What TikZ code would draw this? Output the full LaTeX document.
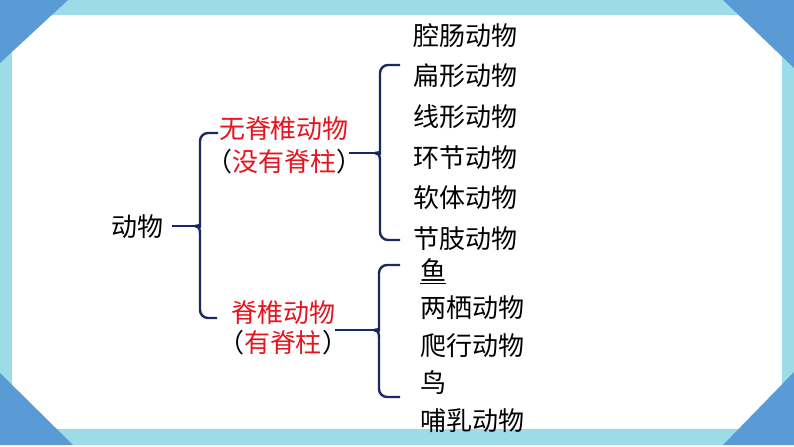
\documentclass[tikz,border=0pt]{standalone}
\usepackage{fontspec}
\newfontfamily\cjk{Noto Sans CJK SC}
\definecolor{framecyan}{RGB}{155,220,230}
\definecolor{cornerblue}{RGB}{91,155,213}
\definecolor{bracenavy}{RGB}{25,40,95}
\definecolor{labelred}{RGB}{230,20,30}
\tikzset{
  txt/.style={font=\cjk\fontsize{19.5}{23}\selectfont, inner sep=0pt},
  item/.style={txt, anchor=base west},
  group/.style={txt, anchor=base, text=labelred},
  brace/.style={bracenavy, line width=1.8pt, line join=round},
}

\begin{document}
\begin{tikzpicture}[x=0.75pt, y=-0.75pt]
        \useasboundingbox (0,0) rectangle (794,447);
        \fill[white] (0,0) rectangle (794,447);

        % Frame and corners
        \fill[framecyan] (0,0) rectangle (794,445);
        \fill[white] (12,15) rectangle (782,429);
        \fill[cornerblue] (0,0) -- (68,0) -- (0,63) -- cycle;
        \fill[cornerblue] (723,0) -- (794,0) -- (794,68) -- cycle;
        \fill[cornerblue] (0,373) -- (0,445) -- (73,445) -- cycle;
        \fill[cornerblue] (723,445) -- (794,445) -- (794,372) -- cycle;

        % Root and groups
        \node[txt, anchor=base west] (dongwu) at (111,236) {动物};
        \node[group] (wuji) at (284,138) {无脊椎动物};
        \node[group] (wujinote) at (284,171) {{\color{black}（}没有脊柱{\color{black}）}};
        \node[group] (jizhui) at (283,322) {脊椎动物};
        \node[group] (jizhuinote) at (283,352) {{\color{black}（}有脊柱{\color{black}）}};

        % Invertebrates
        \node[item] (qiang) at (413,45) {腔肠动物};
        \node[item] (bian) at (413,85.5) {扁形动物};
        \node[item] (xian) at (413,126) {线形动物};
        \node[item] (huan) at (413,167) {环节动物};
        \node[item] (ruan) at (413,207) {软体动物};
        \node[item] (jie) at (413,248) {节肢动物};

        % Vertebrates
        \node[item] (yu) at (420,280) {\underline{鱼}};
        \node[item] (liang) at (420,317.5) {两栖动物};
        \node[item] (pa) at (420,355) {爬行动物};
        \node[item] (niao) at (420,392.5) {鸟};
        \node[item] (bu) at (420,430) {哺乳动物};

        % Braces
        \coordinate (tip1) at (195,226);
        \coordinate (tip2) at (375,153);
        \coordinate (tip3) at (374,330);
        \draw[brace, rounded corners=6] (218,133) -- (200,133) -- (200,219)
          [sharp corners] .. controls (200,224) and (198,226) .. (tip1)
          .. controls (198,226) and (200,228) .. (200,233)
          [rounded corners=6] -- (200,318) -- (217,318);
        \draw[brace, rounded corners=6] (400,65) -- (380,65) -- (380,146)
          [sharp corners] .. controls (380,151) and (378,153) .. (tip2)
          .. controls (378,153) and (380,155) .. (380,160)
          [rounded corners=6] -- (380,240) -- (400,240);
        \draw[brace, rounded corners=6] (400,265) -- (379,265) -- (379,323)
          [sharp corners] .. controls (379,328) and (377,330) .. (tip3)
          .. controls (377,330) and (379,332) .. (379,337)
          [rounded corners=6] -- (379,397) -- (400,397);

        % Connectors
        \draw[brace, shorten <=6.5pt] (dongwu.east |- tip1) -- (tip1);
        \draw[brace] ([xshift=-10pt]wujinote.east |- tip2) -- (tip2);
        \draw[brace] ([xshift=-10pt]jizhuinote.east |- tip3) -- (tip3);
\end{tikzpicture}
\end{document}
